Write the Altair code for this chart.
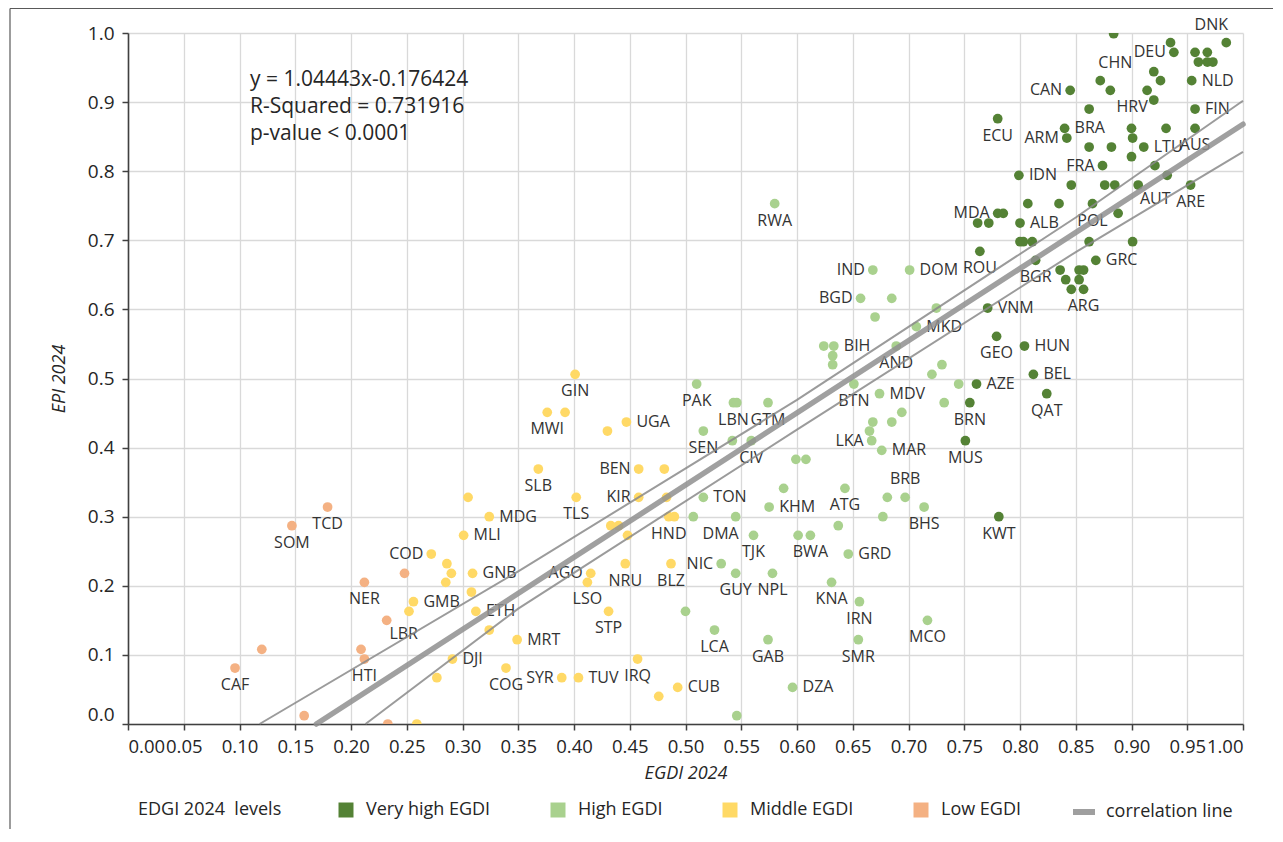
import altair as alt
import pandas as pd

# ---------------- regression annotation ----------------
SLOPE = 1.04443
INTERCEPT = -0.176424
R_SQUARED = 0.731916
P_TEXT = "p-value < 0.0001"

levels = ["Very high EGDI", "High EGDI", "Middle EGDI", "Low EGDI"]
level_colors = ["#548235", "#a9d18e", "#ffd966", "#f4b183"]

x_ticks = [0.00, 0.05, 0.10, 0.15, 0.20, 0.25, 0.30, 0.35, 0.40, 0.45, 0.50,
           0.55, 0.60, 0.65, 0.70, 0.75, 0.80, 0.85, 0.90, 0.95, 1.00]
y_ticks = [0.0, 0.1, 0.2, 0.3, 0.4, 0.5, 0.6, 0.7, 0.8, 0.9, 1.0]

# ---------------- Very high EGDI ----------------
vh_code = ["", "", "DEU", "", "", "DNK", "", "", "", "NLD",
           "", "", "HRV", "", "CHN", "", "CAN", "", "FIN", "AUS",
           "", "", "", "BRA", "ARM", "", "", "LTU", "", "FRA",
           "", "", "IDN", "ECU", "", "", "", "AUT", "ARE", "",
           "POL", "", "", "MDA", "", "", "", "ALB", "", "",
           "", "", "", "ROU", "BGR", "GRC", "", "", "", "",
           "", "", "ARG", "VNM", "GEO", "HUN", "BEL", "AZE", "QAT", "BRN",
           "MUS", "KWT"]
vh_egdi = [0.884, 0.935, 0.938, 0.957, 0.968, 0.985, 0.960, 0.968, 0.973, 0.954,
           0.920, 0.926, 0.914, 0.920, 0.872, 0.881, 0.845, 0.862, 0.957, 0.957,
           0.931, 0.900, 0.901, 0.840, 0.842, 0.862, 0.882, 0.911, 0.900, 0.874,
           0.921, 0.932, 0.799, 0.780, 0.846, 0.876, 0.885, 0.906, 0.953, 0.835,
           0.865, 0.807, 0.888, 0.780, 0.785, 0.762, 0.772, 0.800, 0.800, 0.803,
           0.811, 0.862, 0.901, 0.764, 0.814, 0.868, 0.836, 0.853, 0.857, 0.841,
           0.853, 0.846, 0.857, 0.771, 0.779, 0.804, 0.812, 0.761, 0.824, 0.755,
           0.751, 0.781]
vh_epi = [0.999, 0.986, 0.972, 0.972, 0.972, 0.986, 0.958, 0.958, 0.958, 0.931,
          0.944, 0.931, 0.917, 0.903, 0.931, 0.917, 0.917, 0.890, 0.890, 0.862,
          0.862, 0.862, 0.848, 0.862, 0.848, 0.835, 0.835, 0.835, 0.821, 0.808,
          0.808, 0.794, 0.794, 0.876, 0.780, 0.780, 0.780, 0.780, 0.780, 0.753,
          0.753, 0.753, 0.739, 0.739, 0.739, 0.725, 0.725, 0.725, 0.698, 0.698,
          0.698, 0.698, 0.698, 0.684, 0.671, 0.671, 0.657, 0.657, 0.657, 0.643,
          0.643, 0.629, 0.629, 0.602, 0.561, 0.547, 0.506, 0.492, 0.478, 0.465,
          0.410, 0.300]

# ---------------- High EGDI ----------------
h_code = ["RWA", "IND", "DOM", "BGD", "", "", "", "MKD", "", "BIH",
          "", "", "AND", "", "", "BTN", "", "MDV", "", "",
          "", "", "", "LKA", "MAR", "PAK", "LBN", "", "GTM", "SEN",
          "", "CIV", "", "", "TON", "", "ATG", "KHM", "", "BRB",
          "BHS", "", "", "", "DMA", "TJK", "", "BWA", "GRD", "NIC",
          "GUY", "NPL", "KNA", "IRN", "", "LCA", "MCO", "GAB", "SMR", "DZA",
          ""]
h_egdi = [0.580, 0.668, 0.701, 0.657, 0.685, 0.725, 0.670, 0.707, 0.624, 0.633,
          0.632, 0.632, 0.689, 0.730, 0.721, 0.651, 0.745, 0.674, 0.732, 0.694,
          0.668, 0.685, 0.665, 0.667, 0.676, 0.510, 0.543, 0.546, 0.574, 0.516,
          0.542, 0.559, 0.599, 0.608, 0.516, 0.588, 0.643, 0.575, 0.681, 0.697,
          0.714, 0.677, 0.637, 0.507, 0.545, 0.561, 0.601, 0.612, 0.646, 0.532,
          0.545, 0.578, 0.631, 0.656, 0.500, 0.526, 0.717, 0.574, 0.655, 0.596,
          0.546]
h_epi = [0.753, 0.657, 0.657, 0.616, 0.616, 0.602, 0.589, 0.575, 0.547, 0.547,
         0.533, 0.520, 0.547, 0.520, 0.506, 0.492, 0.492, 0.478, 0.465, 0.451,
         0.437, 0.437, 0.424, 0.410, 0.396, 0.492, 0.465, 0.465, 0.465, 0.424,
         0.410, 0.410, 0.383, 0.383, 0.328, 0.341, 0.341, 0.314, 0.328, 0.328,
         0.314, 0.300, 0.287, 0.300, 0.300, 0.273, 0.273, 0.273, 0.246, 0.232,
         0.218, 0.218, 0.205, 0.177, 0.163, 0.136, 0.150, 0.122, 0.122, 0.053,
         0.012]

# ---------------- Middle EGDI ----------------
m_code = ["GIN", "MWI", "", "UGA", "", "SLB", "BEN", "", "", "TLS",
          "KIR", "", "MDG", "MLI", "HND", "", "", "", "", "COD",
          "", "", "", "GNB", "", "NRU", "BLZ", "AGO", "LSO", "GMB",
          "", "ETH", "STP", "", "MRT", "DJI", "", "COG", "IRQ", "SYR",
          "TUV", "CUB", "", ""]
m_egdi = [0.401, 0.376, 0.392, 0.447, 0.430, 0.368, 0.458, 0.481, 0.305, 0.402,
          0.458, 0.483, 0.324, 0.301, 0.485, 0.490, 0.433, 0.440, 0.448, 0.272,
          0.286, 0.290, 0.285, 0.309, 0.308, 0.446, 0.487, 0.415, 0.412, 0.256,
          0.252, 0.312, 0.431, 0.324, 0.349, 0.291, 0.277, 0.339, 0.457, 0.389,
          0.404, 0.493, 0.476, 0.259]
m_epi = [0.506, 0.451, 0.451, 0.437, 0.424, 0.369, 0.369, 0.369, 0.328, 0.328,
         0.328, 0.328, 0.300, 0.273, 0.300, 0.300, 0.287, 0.287, 0.273, 0.246,
         0.232, 0.218, 0.205, 0.218, 0.191, 0.232, 0.232, 0.218, 0.205, 0.177,
         0.163, 0.163, 0.163, 0.136, 0.122, 0.094, 0.067, 0.081, 0.094, 0.067,
         0.067, 0.053, 0.040, 0.000]

# ---------------- Low EGDI ----------------
l_code = ["TCD", "SOM", "", "NER", "LBR", "", "CAF", "", "HTI", "", ""]
l_egdi = [0.179, 0.147, 0.248, 0.212, 0.232, 0.120, 0.096, 0.209, 0.212, 0.158, 0.233]
l_epi = [0.314, 0.287, 0.218, 0.205, 0.150, 0.108, 0.081, 0.108, 0.094, 0.012, 0.000]

# ---------------- confidence band lines ----------------
upper_egdi = [0.118, 0.35, 0.60, 0.85, 1.00]
upper_epi = [0.000, 0.221, 0.469, 0.733, 0.902]
lower_egdi = [0.213, 0.35, 0.60, 0.85, 1.00]
lower_epi = [0.000, 0.167, 0.426, 0.683, 0.828]

# ---------------- data label placement (like Excel label position) ----------------
label_pos = {
    "DEU": "l", "DNK": "tl", "NLD": "r", "HRV": "bl", "CHN": "tr", "CAN": "l",
    "FIN": "r", "AUS": "b", "BRA": "r", "ARM": "l", "LTU": "r", "FRA": "l",
    "IDN": "r", "ECU": "b", "AUT": "br", "ARE": "b", "POL": "b", "MDA": "l",
    "ALB": "r", "ROU": "b", "BGR": "b", "GRC": "r", "ARG": "b", "VNM": "r",
    "GEO": "b", "HUN": "r", "BEL": "r", "AZE": "r", "QAT": "b", "BRN": "b",
    "MUS": "b", "KWT": "b",
    "RWA": "b", "IND": "l", "DOM": "r", "BGD": "l", "MKD": "r", "BIH": "r",
    "AND": "b", "BTN": "b", "MDV": "r", "LKA": "l", "MAR": "r", "PAK": "b",
    "LBN": "b", "GTM": "b", "SEN": "b", "CIV": "b", "TON": "r", "ATG": "b",
    "KHM": "r", "BRB": "t", "BHS": "b", "DMA": "bl", "TJK": "b", "BWA": "b",
    "GRD": "r", "NIC": "l", "GUY": "b", "NPL": "b", "KNA": "b", "IRN": "b",
    "LCA": "b", "MCO": "b", "GAB": "b", "SMR": "b", "DZA": "r",
    "GIN": "b", "MWI": "b", "UGA": "r", "SLB": "b", "BEN": "l", "TLS": "b",
    "KIR": "l", "MDG": "r", "MLI": "r", "HND": "b", "COD": "l", "GNB": "r",
    "NRU": "b", "BLZ": "b", "AGO": "l", "LSO": "b", "GMB": "r", "ETH": "r",
    "STP": "b", "MRT": "r", "DJI": "r", "COG": "b", "IRQ": "b", "SYR": "l",
    "TUV": "r", "CUB": "r",
    "TCD": "b", "SOM": "b", "NER": "b", "LBR": "br", "CAF": "b", "HTI": "b",
}
placements = {
    "r": dict(align="left", dx=10, dy=0),
    "l": dict(align="right", dx=-8, dy=0),
    "b": dict(align="center", dx=0, dy=17),
    "t": dict(align="center", dx=0, dy=-18),
    "bl": dict(align="center", dx=-15, dy=17),
    "br": dict(align="center", dx=17, dy=14),
    "tl": dict(align="center", dx=-15, dy=-18),
    "tr": dict(align="center", dx=15, dy=-18),
}

# ---------------- build tables ----------------
groups = [
    (levels[0], vh_code, vh_egdi, vh_epi),
    (levels[1], h_code, h_egdi, h_epi),
    (levels[2], m_code, m_egdi, m_epi),
    (levels[3], l_code, l_egdi, l_epi),
]
frames = []
for name, codes, xs, ys in groups:
    assert len(codes) == len(xs) == len(ys), name
    frames.append(pd.DataFrame({"code": codes, "egdi": xs, "epi": ys, "level": name}))
pts = pd.concat(frames, ignore_index=True)
pts["pos"] = [label_pos.get(c, "") for c in pts["code"]]

x_start = -INTERCEPT / SLOPE
main_x = [x_start, 1.0]
main_df = pd.DataFrame({
    "egdi": main_x,
    "epi": [SLOPE * v + INTERCEPT for v in main_x],
    "name": "correlation line",
})
band_df = pd.concat([
    pd.DataFrame({"egdi": upper_egdi, "epi": upper_epi, "band": "upper"}),
    pd.DataFrame({"egdi": lower_egdi, "epi": lower_epi, "band": "lower"}),
], ignore_index=True)

FONT = "Open Sans"
TXT = "#262626"

x_enc = alt.X(
    "egdi:Q",
    scale=alt.Scale(domain=[0, 1], nice=False, zero=False),
    axis=alt.Axis(values=x_ticks, format=".2f", title="EGDI 2024", labelFlush=True,
                  labelOverlap=False, labelPadding=7, titlePadding=9, labelFontSize=18.5),
)
y_enc = alt.Y(
    "epi:Q",
    scale=alt.Scale(domain=[0, 1], nice=False, zero=False),
    axis=alt.Axis(values=y_ticks, format=".1f", title="EPI 2024", labelPadding=8,
                  labelOverlap=False, titlePadding=19, labelFontSize=19,
                  labelBaseline={"condition": {"test": "datum.value == 0", "value": "bottom"},
                                 "value": "middle"}),
)

points = alt.Chart(pts).mark_circle(size=95, opacity=1, clip=True).encode(
    x=x_enc,
    y=y_enc,
    color=alt.Color(
        "level:N",
        scale=alt.Scale(domain=levels, range=level_colors),
        legend=alt.Legend(
            title="EDGI 2024 \u00a0levels", orient="none", legendX=10, legendY=768,
            direction="horizontal", titleOrient="left", symbolType="square",
            symbolSize=225, symbolStrokeWidth=0, symbolOpacity=1,
            labelFontSize=18, labelFont=FONT, labelColor=TXT, labelOffset=11,
            titleFontSize=18, titleFont=FONT, titleFontWeight="normal", titleColor=TXT,
            titlePadding=55, columnPadding=58, labelLimit=400, titleLimit=400,
        ),
    ),
)

label_layers = []
for code, p in placements.items():
    label_layers.append(
        alt.Chart(pts).transform_filter(alt.datum.pos == code).mark_text(
            align=p["align"], baseline="middle", dx=p["dx"], dy=p["dy"],
            font=FONT, fontSize=16, color="#333333",
        ).encode(x=x_enc, y=y_enc, text="code:N")
    )

bands = alt.Chart(band_df).mark_line(strokeWidth=2, color="#8a8a8a", opacity=0.85).encode(
    x=x_enc, y=y_enc, detail="band:N"
)

main_line = alt.Chart(main_df).mark_line(strokeWidth=5.5, strokeCap="round", opacity=0.85).encode(
    x=x_enc,
    y=y_enc,
    stroke=alt.Stroke(
        "name:N",
        scale=alt.Scale(domain=["correlation line"], range=["#8f8f8f"]),
        legend=alt.Legend(
            title=None, orient="none", legendX=942, legendY=765,
            symbolType="stroke", symbolSize=484, symbolStrokeWidth=6,
            labelFontSize=18, labelFont=FONT, labelColor=TXT, labelOffset=8,
            labelLimit=400,
        ),
    ),
)

eq_lines = [
    f"y = {SLOPE}x{INTERCEPT}",
    f"R-Squared = {R_SQUARED}",
    P_TEXT,
]
dummy = pd.DataFrame({"k": [0]})
annotation = alt.Chart(dummy).mark_text(
    align="left", baseline="middle", font=FONT, fontSize=21, lineHeight=27,
    color=TXT, text=eq_lines,
).encode(x=alt.value(122), y=alt.value(47))

frame_left = alt.Chart(dummy).mark_rule(color="#595959", strokeWidth=1.2).encode(
    x=alt.value(-118), y=alt.value(-24.5), y2=alt.value(820)
)
frame_top = alt.Chart(dummy).mark_rule(color="#595959", strokeWidth=1.2).encode(
    x=alt.value(-118), x2=alt.value(1160), y=alt.value(-24.5)
)

chart = alt.layer(
    points, *label_layers, bands, main_line, annotation, frame_left, frame_top
).properties(
    width=1115,
    height=691,
    padding={"left": 120, "top": 25, "right": 30, "bottom": 105},
    autosize=alt.AutoSizeParams(type="none"),
).configure(
    font=FONT,
).configure_view(
    stroke=None,
).configure_axis(
    domainColor="#404040", domainWidth=1.6, tickColor="#404040", tickWidth=1.5,
    tickSize=6, gridColor="#d9d9d9", gridWidth=1.3,
    labelFont=FONT, labelColor=TXT,
    titleFont=FONT, titleFontSize=18, titleFontStyle="italic",
    titleFontWeight="normal", titleColor=TXT,
)

chart.save("out.html", embed_options={"renderer": "svg", "actions": False})
